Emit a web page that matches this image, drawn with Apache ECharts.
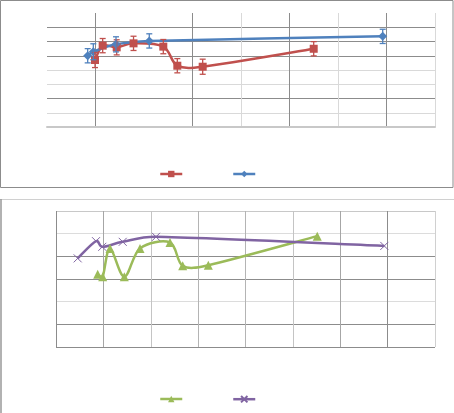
<!DOCTYPE html>
<html>
<head>
<meta charset="utf-8">
<script src="https://cdn.jsdelivr.net/npm/echarts@6/dist/echarts.min.js"></script>
<style>html,body{margin:0;padding:0;background:#fff;}#c{width:454px;height:413px;}</style>
</head>
<body>
<div id="c"></div>
<script>
// Top panel data
const redX = [0.99, 1.148, 1.437, 1.784, 2.398, 2.687, 3.21, 5.499];
const redY = [4.70, 5.71, 5.59, 5.87, 5.64, 4.30, 4.23, 5.49];
const redErr = [0.53, 0.5, 0.53, 0.5, 0.5, 0.5, 0.53, 0.5];
const blueX = [0.839, 0.955, 1.423, 2.109, 6.922];
const blueY = [5.00, 5.28, 5.80, 6.04, 6.36];
const blueErr = [0.5, 0.56, 0.53, 0.5, 0.5];
// Bottom panel data
const greenX = [0.88, 0.986, 1.14, 1.442, 1.773, 2.406, 2.674, 3.215, 5.515];
const greenY = [3.21, 3.10, 4.35, 3.10, 4.35, 4.61, 3.58, 3.61, 4.89];
const purpleX = [0.458, 0.844, 0.977, 1.408, 2.111, 6.930];
const purpleY = [3.91, 4.67, 4.42, 4.64, 4.86, 4.46];

const RED = '#C0504D', BLUE = '#4F81BD', GREEN = '#9BBB59', PURPLE = '#8064A2';
const zip = (xs, ys) => xs.map((x, i) => [x, ys[i]]);
const zip3 = (xs, ys, es) => xs.map((x, i) => [x, ys[i], es[i]]);

function errBar(color) {
  return function (params, api) {
    const x = api.value(0), y = api.value(1), e = api.value(2);
    const t = api.coord([x, y + e]), b = api.coord([x, y - e]);
    const w = 3;
    const st = { stroke: color, lineWidth: 1.3 };
    return { type: 'group', children: [
      { type: 'line', shape: { x1: t[0], y1: t[1], x2: b[0], y2: b[1] }, style: st },
      { type: 'line', shape: { x1: t[0] - w, y1: t[1], x2: t[0] + w, y2: t[1] }, style: st },
      { type: 'line', shape: { x1: b[0] - w, y1: b[1], x2: b[0] + w, y2: b[1] }, style: st }
    ] };
  };
}

// Spreadsheet-style smoothed curve through the points (in pixel space via api.coord)
function smoothCurve(xs, ys, color) {
  return function (params, api) {
    if (params.dataIndex !== 0) return null;
    const P = xs.map((x, i) => api.coord([x, ys[i]]));
    const n = P.length;
    const T = P.map((p, i) => {
      const a = P[Math.max(i - 1, 0)], b = P[Math.min(i + 1, n - 1)];
      return [b[0] - a[0], b[1] - a[1]];
    });
    const len = v => Math.hypot(v[0], v[1]) || 1e-9;
    let d = 'M' + P[0][0] + ',' + P[0][1];
    for (let i = 0; i < n - 1; i++) {
      const p0 = P[i], p1 = P[i + 1];
      const seg = Math.hypot(p1[0] - p0[0], p1[1] - p0[1]);
      const s0 = Math.min(1 / 6, 0.42 * seg / len(T[i]));
      const s1 = Math.min(1 / 6, 0.42 * seg / len(T[i + 1]));
      const c1 = [p0[0] + T[i][0] * s0, p0[1] + T[i][1] * s0];
      const c2 = [p1[0] - T[i + 1][0] * s1, p1[1] - T[i + 1][1] * s1];
      d += ' C' + c1[0] + ',' + c1[1] + ' ' + c2[0] + ',' + c2[1] + ' ' + p1[0] + ',' + p1[1];
    }
    return { type: 'path', shape: { pathData: d }, style: { fill: 'none', stroke: color, lineWidth: 2.5, lineJoin: 'round' } };
  };
}

const D = '#8c8c8c', L = '#d9d9d9', N = 'rgba(0,0,0,0)';
const xCross = 'path://M0,0L10,10M10,0L0,10';

function legendAt(name, left, top, color) {
  return { data: [name], left: left, top: top, itemWidth: 22, itemHeight: 8, padding: 0,
    formatter: () => '', textStyle: { fontSize: 1 },
    lineStyle: { color: color, width: 2.5, opacity: 1 } };
}

const chart = echarts.init(document.getElementById('c'), null, { renderer: 'canvas' });
chart.setOption({
  animation: false,
  backgroundColor: '#fff',
  graphic: [
    { type: 'rect', shape: { x: 0.5, y: 0.5, width: 452.5, height: 187 }, style: { fill: 'none', stroke: '#8c8c8c', lineWidth: 1 }, z: 0 },
    { type: 'line', shape: { x1: 0, y1: 199.5, x2: 454, y2: 199.5 }, style: { stroke: '#d0d0d0', lineWidth: 1 } },
    { type: 'line', shape: { x1: 1, y1: 199, x2: 1, y2: 413 }, style: { stroke: '#999', lineWidth: 1.5 } }
  ],
  grid: [
    { left: 47, top: 13, width: 388, height: 114 },
    { left: 56, top: 211, width: 379, height: 136 }
  ],
  xAxis: [
    { type: 'value', gridIndex: 0, min: 0, max: 8, interval: 1,
      axisLine: { show: true, lineStyle: { color: '#c8c8c8', width: 2 } },
      axisTick: { show: false }, axisLabel: { show: false },
      splitLine: { show: true, lineStyle: { width: 1, color: [N, D, N, D, L, D, L, D, L] } } },
    { type: 'value', gridIndex: 1, min: 0, max: 8, interval: 1,
      axisLine: { show: false }, axisTick: { show: false }, axisLabel: { show: false },
      splitLine: { show: true, lineStyle: { width: 1, color: ['#8c8c8c', '#a6a6a6', '#c4c4c4', '#b4b4b4', '#b4b4b4', '#c4c4c4', '#a6a6a6', '#8c8c8c', '#d0d0d0'] } } }
  ],
  yAxis: [
    { type: 'value', gridIndex: 0, min: 0, max: 8, interval: 1,
      axisLine: { show: false }, axisTick: { show: false }, axisLabel: { show: false },
      splitLine: { show: true, lineStyle: { width: 1, color: [N, L, D, L, L, D, D, D, N] } } },
    { type: 'value', gridIndex: 1, min: 0, max: 6, interval: 1,
      axisLine: { show: false }, axisTick: { show: false }, axisLabel: { show: false },
      splitLine: { show: true, lineStyle: { width: 1, color: ['#8c8c8c', '#8c8c8c', '#dcdcdc', '#8c8c8c', '#8c8c8c', '#dcdcdc', '#c8c8c8'] } } }
  ],
  legend: [
    legendAt('红', 159, 170, RED),
    legendAt('蓝', 232, 170, BLUE),
    legendAt('绿', 159, 395, GREEN),
    legendAt('紫', 232, 395, PURPLE)
  ],
  series: [
    { type: 'custom', xAxisIndex: 0, yAxisIndex: 0, data: [[redX[0], redY[0]]], renderItem: smoothCurve(redX, redY, RED), z: 2, clip: false },
    { name: '红', type: 'line', xAxisIndex: 0, yAxisIndex: 0, data: zip(redX, redY),
      symbol: 'rect', symbolSize: 8, itemStyle: { color: RED }, lineStyle: { color: RED, width: 2.5, opacity: 0 }, z: 3 },
    { type: 'custom', xAxisIndex: 0, yAxisIndex: 0, data: [[blueX[0], blueY[0]]], renderItem: smoothCurve(blueX, blueY, BLUE), z: 3, clip: false },
    { name: '蓝', type: 'line', xAxisIndex: 0, yAxisIndex: 0, data: zip(blueX, blueY),
      symbol: 'diamond', symbolSize: 9, itemStyle: { color: BLUE }, lineStyle: { color: BLUE, width: 2.5, opacity: 0 }, z: 4 },
    { type: 'custom', xAxisIndex: 0, yAxisIndex: 0, data: zip3(redX, redY, redErr), renderItem: errBar(RED), z: 5 },
    { type: 'custom', xAxisIndex: 0, yAxisIndex: 0, data: zip3(blueX, blueY, blueErr), renderItem: errBar(BLUE), z: 5 },
    { type: 'custom', xAxisIndex: 1, yAxisIndex: 1, data: [[greenX[0], greenY[0]]], renderItem: smoothCurve(greenX, greenY, GREEN), z: 2, clip: false },
    { name: '绿', type: 'line', xAxisIndex: 1, yAxisIndex: 1, data: zip(greenX, greenY),
      symbol: 'triangle', symbolSize: 9, itemStyle: { color: GREEN }, lineStyle: { color: GREEN, width: 2.5, opacity: 0 }, z: 3 },
    { type: 'custom', xAxisIndex: 1, yAxisIndex: 1, data: [[purpleX[0], purpleY[0]]], renderItem: smoothCurve(purpleX, purpleY, PURPLE), z: 3, clip: false },
    { name: '紫', type: 'line', xAxisIndex: 1, yAxisIndex: 1, data: zip(purpleX, purpleY),
      symbol: xCross, symbolSize: 8, itemStyle: { color: PURPLE, borderColor: PURPLE, borderWidth: 1 }, lineStyle: { color: PURPLE, width: 2.5, opacity: 0 }, z: 4 }
  ]
});
</script>
</body>
</html>
